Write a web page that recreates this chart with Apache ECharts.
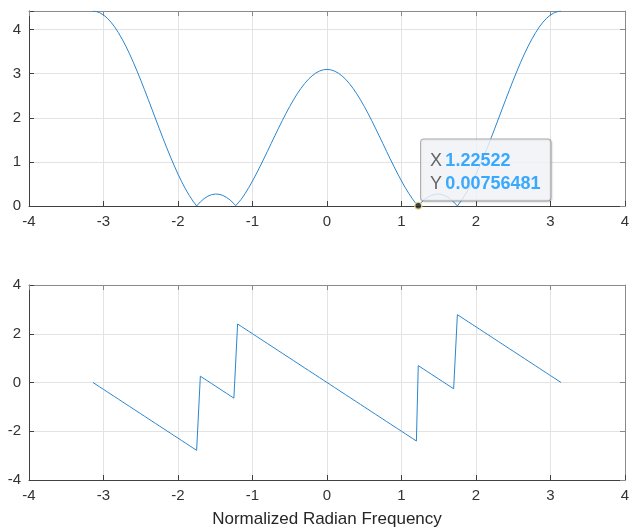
<!DOCTYPE html>
<html>
<head>
<meta charset="utf-8">
<script src="https://cdn.jsdelivr.net/npm/echarts@6/dist/echarts.min.js"></script>
<style>
html,body{margin:0;padding:0;background:#fff;}
#c{width:640px;height:529px;}
</style>
</head>
<body>
<div id="c"></div>
<script>
// Normalized radian frequency samples
var freq = [
-3.1416,-3.10,-3.05,-3.00,-2.95,-2.90,-2.85,-2.80,-2.75,-2.70,-2.65,-2.60,-2.55,-2.50,-2.45,-2.40,
-2.35,-2.30,-2.25,-2.20,-2.15,-2.10,-2.05,-2.00,-1.95,-1.90,-1.85,-1.80,-1.75,-1.70,-1.65,-1.60,
-1.55,-1.50,-1.45,-1.40,-1.35,-1.30,-1.25,-1.225,-1.20,-1.15,-1.10,-1.05,-1.00,-0.95,-0.90,-0.85,
-0.80,-0.75,-0.70,-0.65,-0.60,-0.55,-0.50,-0.45,-0.40,-0.35,-0.30,-0.25,-0.20,-0.15,-0.10,-0.05,
0,
0.05,0.10,0.15,0.20,0.25,0.30,0.35,0.40,0.45,0.50,0.55,0.60,0.65,0.70,0.75,0.80,0.85,0.90,0.95,1.00,
1.05,1.10,1.15,1.20,1.225,1.25,1.30,1.35,1.40,1.45,1.50,1.55,1.60,1.65,1.70,1.75,1.80,1.85,1.90,1.95,
2.00,2.05,2.10,2.15,2.20,2.25,2.30,2.35,2.40,2.45,2.50,2.55,2.60,2.65,2.70,2.75,2.80,2.85,2.90,2.95,
3.00,3.05,3.10,3.1416
];
// Magnitude response
var magnitude = [
4.416,4.409,4.380,4.330,4.259,4.168,4.058,3.929,3.783,3.622,3.447,3.259,3.060,2.852,2.637,2.418,
2.195,1.971,1.749,1.530,1.316,1.109,0.911,0.723,0.548,0.388,0.242,0.113,0.001,0.093,0.167,0.221,
0.256,0.271,0.265,0.241,0.197,0.134,0.054,0.0076,0.042,0.154,0.280,0.418,0.567,0.726,0.891,1.063,
1.238,1.415,1.591,1.766,1.936,2.101,2.257,2.405,2.542,2.666,2.776,2.872,2.951,3.014,3.059,3.087,
3.096,
3.087,3.059,3.014,2.951,2.872,2.776,2.666,2.542,2.405,2.257,2.101,1.936,1.766,1.591,1.415,1.238,1.063,0.891,0.726,0.567,
0.418,0.280,0.154,0.042,0.0076,0.054,0.134,0.197,0.241,0.265,0.271,0.256,0.221,0.167,0.093,0.001,0.113,0.242,0.388,0.548,
0.723,0.911,1.109,1.316,1.530,1.749,1.971,2.195,2.418,2.637,2.852,3.060,3.259,3.447,3.622,3.783,3.929,4.058,4.168,4.259,
4.330,4.380,4.409,4.416
];
// Phase response (radians)
var phase = [
0,-0.083,-0.183,-0.283,-0.383,-0.483,-0.583,-0.683,-0.783,-0.883,-0.983,-1.083,-1.183,-1.283,-1.383,-1.483,
-1.583,-1.683,-1.783,-1.883,-1.983,-2.083,-2.183,-2.283,-2.383,-2.483,-2.583,-2.683,-2.783,0.258,0.158,0.058,
-0.042,-0.142,-0.242,-0.342,-0.442,-0.542,-0.642,-0.692,2.4,2.3,2.2,2.1,2.0,1.9,1.8,1.7,
1.6,1.5,1.4,1.3,1.2,1.1,1.0,0.9,0.8,0.7,0.6,0.5,0.4,0.3,0.2,0.1,
0,
-0.1,-0.2,-0.3,-0.4,-0.5,-0.6,-0.7,-0.8,-0.9,-1.0,-1.1,-1.2,-1.3,-1.4,-1.5,-1.6,-1.7,-1.8,-1.9,-2.0,
-2.1,-2.2,-2.3,-2.4,0.692,0.642,0.542,0.442,0.342,0.242,0.142,0.042,-0.058,-0.158,-0.258,2.783,2.683,2.583,2.483,2.383,
2.283,2.183,2.083,1.983,1.883,1.783,1.683,1.583,1.483,1.383,1.283,1.183,1.083,0.983,0.883,0.783,0.683,0.583,0.483,0.383,
0.283,0.183,0.083,0
];
// Data tip
var tipX = 1.22522;
var tipY = 0.00756481;
var tipXText = '1.22522';
var tipYText = '0.00756481';
var xLabel = 'Normalized Radian Frequency';

var magData = freq.map(function (f, i) { return [f, magnitude[i]]; });
var phaseData = freq.map(function (f, i) { return [f, phase[i]]; });

var FONT = '"Liberation Sans", Arial, Helvetica, sans-serif';
var lineColor = '#2a86cf';
var gridColor = '#e3e3e3';

function intFmt(v) { return Math.abs(v - Math.round(v)) < 1e-9 ? String(Math.round(v)) : ''; }

function mainX(gi, withName) {
  var a = {
    type: 'value', gridIndex: gi, min: -4, max: 4, interval: 1, position: 'bottom',
    axisLine: { show: true, onZero: false, lineStyle: { color: '#404040', width: 1 } },
    axisTick: { show: true, inside: true, length: 5, lineStyle: { color: '#404040' } },
    axisLabel: { color: '#333', fontSize: 15, fontFamily: FONT, margin: 8, formatter: intFmt },
    splitLine: { show: true, lineStyle: { color: gridColor, width: 1 } }
  };
  if (withName) {
    a.name = xLabel; a.nameLocation = 'middle'; a.nameGap = 31;
    a.nameTextStyle = { color: '#262626', fontSize: 17, fontFamily: FONT };
  }
  return a;
}
function topX(gi) {
  return {
    type: 'value', gridIndex: gi, min: -4, max: 4, interval: 1, position: 'top',
    axisLine: { show: true, onZero: false, lineStyle: { color: '#8a8a8a', width: 1 } },
    axisTick: { show: true, inside: true, length: 5, lineStyle: { color: '#8a8a8a' } },
    axisLabel: { show: false }, splitLine: { show: false }
  };
}
function mainY(gi, mn, mx, iv) {
  return {
    type: 'value', gridIndex: gi, min: mn, max: mx, interval: iv, position: 'left',
    axisLine: { show: true, onZero: false, lineStyle: { color: '#404040', width: 1 } },
    axisTick: { show: true, inside: true, length: 5, lineStyle: { color: '#404040' } },
    axisLabel: { color: '#333', fontSize: 15, fontFamily: FONT, margin: 8, formatter: intFmt },
    splitLine: { show: true, lineStyle: { color: gridColor, width: 1 } }
  };
}
function rightY(gi, mn, mx, iv) {
  return {
    type: 'value', gridIndex: gi, min: mn, max: mx, interval: iv, position: 'right',
    axisLine: { show: true, onZero: false, lineStyle: { color: '#8a8a8a', width: 1 } },
    axisTick: { show: true, inside: true, length: 5, lineStyle: { color: '#8a8a8a' } },
    axisLabel: { show: false }, splitLine: { show: false }
  };
}

var chart = echarts.init(document.getElementById('c'), null, { renderer: 'canvas' });
chart.setOption({
  animation: false,
  backgroundColor: '#ffffff',
  grid: [
    { left: 29, right: 15, top: 11, height: 195 },
    { left: 29, right: 15, top: 285, height: 195 }
  ],
  xAxis: [mainX(0, false), mainX(1, true), topX(0), topX(1)],
  yAxis: [mainY(0, 0, 4.42, 1), mainY(1, -4, 4, 2), rightY(0, 0, 4.42, 1), rightY(1, -4, 4, 2)],
  series: [
    {
      type: 'line', xAxisIndex: 0, yAxisIndex: 0, data: magData, showSymbol: false,
      lineStyle: { color: lineColor, width: 1 }, clip: true, z: 3
    },
    {
      type: 'line', xAxisIndex: 1, yAxisIndex: 1, data: phaseData, showSymbol: false,
      lineStyle: { color: lineColor, width: 1 }, clip: true, z: 3
    },
    {
      type: 'scatter', xAxisIndex: 0, yAxisIndex: 0, data: [[tipX, tipY]],
      symbol: 'circle', symbolSize: 7, clip: false, z: 10,
      itemStyle: { color: '#1a1a1a', borderColor: '#f3e9a0', borderWidth: 1.5 },
      label: {
        show: true, position: [7, -62],
        formatter: '{k|X} {v|' + tipXText + '}\n{k|Y} {v|' + tipYText + '}',
        backgroundColor: '#f8f9fd', borderColor: '#9a9a9a', borderWidth: 1, borderRadius: 3,
        padding: [10, 10, 5, 9],
        shadowColor: 'rgba(0,0,0,0.15)', shadowBlur: 2, shadowOffsetX: 1, shadowOffsetY: 1,
        rich: {
          k: { color: '#404040', fontSize: 18, fontFamily: FONT, lineHeight: 23 },
          v: { color: '#0a96ff', fontSize: 18, fontWeight: 'bold', fontFamily: FONT, lineHeight: 23 }
        }
      }
    }
  ]
});
</script>
</body>
</html>
